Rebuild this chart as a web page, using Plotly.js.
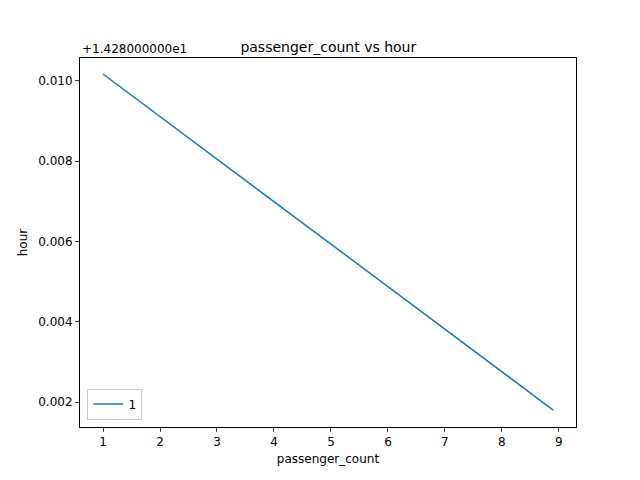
<!DOCTYPE html>
<html>
<head>
<meta charset="utf-8">
<script src="https://cdn.plot.ly/plotly-3.0.1.min.js"></script>
<style>body{margin:0}</style>
</head>
<body>
<div id="chart" style="width:640px;height:480px"></div>
<script>
// values; hour is shown as offset from 14.28
const passengerCount = [1, 8.9];
const hourOffset = 14.28;
const hour = [14.290174, 14.2818];
const tickVals = [0.002, 0.004, 0.006, 0.008, 0.010];
const tickText = ['0.002', '0.004', '0.006', '0.008', '0.010'];

const font = { family: 'DejaVu Sans', size: 12, color: '#000' };

const data = [{
  type: 'scatter',
  mode: 'lines',
  name: '1',
  x: passengerCount,
  y: hour.map(v => v - hourOffset),
  line: { color: '#1f77b4', width: 1.5 }
}];

const layout = {
  width: 640, height: 480,
  font: font,
  paper_bgcolor: '#fff', plot_bgcolor: '#fff',
  margin: { l: 80, r: 64, t: 58, b: 53 },
  title: { text: 'passenger_count vs hour', x: 0.513, xanchor: 'center', yref: 'paper', y: 1, yanchor: 'bottom', pad: { b: 6 }, font: { family: 'DejaVu Sans', size: 14, color: '#000' } },
  xaxis: {
    title: { text: 'passenger_count', standoff: 6, font: font },
    range: [0.596, 9.3], dtick: 1, tick0: 1,
    showgrid: false, zeroline: false, showline: true, mirror: true,
    linecolor: '#000', ticks: 'outside', ticklen: 4, tickfont: font
  },
  yaxis: {
    title: { text: 'hour', standoff: 8, font: font },
    range: [0.001377, 0.010573], tickvals: tickVals, ticktext: tickText,
    showgrid: false, zeroline: false, showline: true, mirror: true,
    linecolor: '#000', ticks: 'outside', ticklen: 4, tickfont: font
  },
  showlegend: true,
  legend: { x: 0.015, y: 0.02, xanchor: 'left', yanchor: 'bottom', bordercolor: '#ccc', borderwidth: 1, font: font },
  annotations: [{
    text: '+1.428000000e1', showarrow: false, xref: 'paper', yref: 'paper',
    x: 0, y: 1, xanchor: 'left', yanchor: 'bottom', font: font
  }]
};

Plotly.newPlot('chart', data, layout, { displayModeBar: false });
</script>
</body>
</html>
